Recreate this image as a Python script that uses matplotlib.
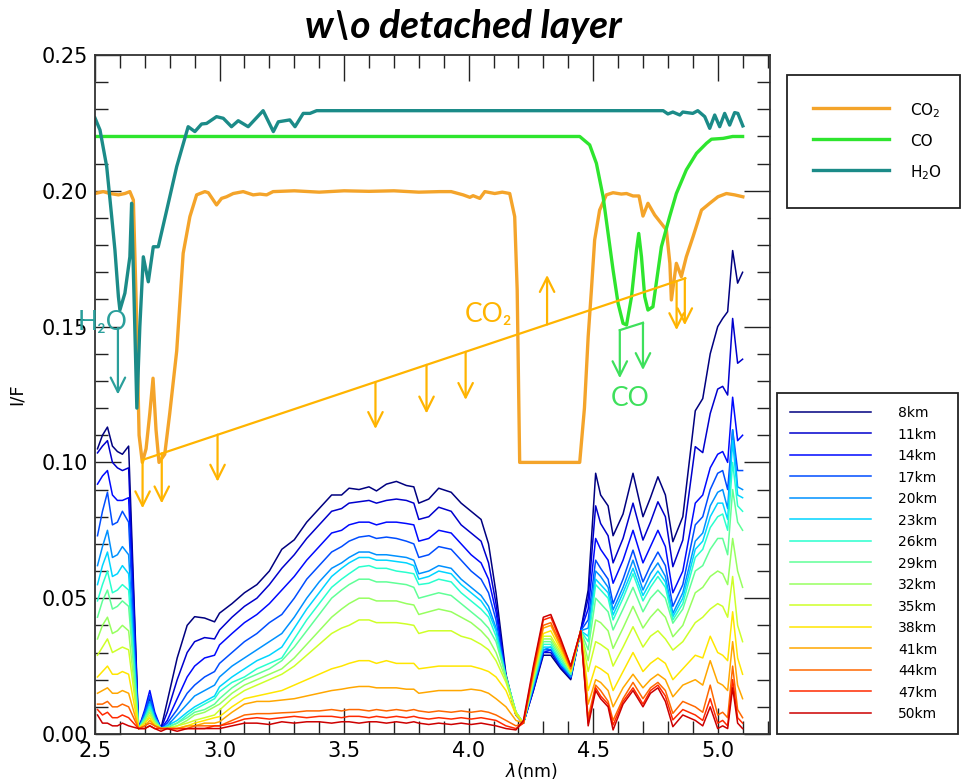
import matplotlib
matplotlib.use('Agg')
import matplotlib.pyplot as plt
from matplotlib.ticker import MultipleLocator, FormatStrFormatter

# ---------------- data ----------------
wl = [2.51, 2.53, 2.55, 2.57, 2.59, 2.61, 2.635,
      2.675, 2.70, 2.72, 2.74, 2.765, 2.79,
      2.83, 2.87, 2.90, 2.94, 2.98, 3.00, 3.05, 3.10, 3.15, 3.20,
      3.25, 3.30, 3.35, 3.40, 3.45, 3.49, 3.52, 3.56, 3.60, 3.63,
      3.67, 3.71, 3.75, 3.78, 3.80, 3.84, 3.88, 3.93, 3.97, 4.01,
      4.05, 4.08, 4.11, 4.15, 4.19, 4.22,
      4.26, 4.30, 4.33, 4.37, 4.41, 4.45,
      4.48, 4.51, 4.53, 4.56, 4.58, 4.62, 4.66, 4.70, 4.73, 4.76,
      4.79, 4.82, 4.86, 4.91, 4.94, 4.97, 5.00, 5.02, 5.04, 5.06,
      5.08, 5.10]

altitudes = ['8km', '11km', '14km', '17km', '20km', '23km', '26km', '29km',
             '32km', '35km', '38km', '41km', '44km', '47km', '50km']

r8 = [0.105, 0.110, 0.113, 0.106, 0.104, 0.103, 0.106,
      0.002, 0.007, 0.013, 0.007, 0.002, 0.012,
      0.028, 0.040, 0.0432, 0.0427, 0.0413, 0.0445, 0.048, 0.052, 0.055, 0.060,
      0.068, 0.0715, 0.078, 0.083, 0.088, 0.088, 0.0905, 0.090, 0.091, 0.0895,
      0.092, 0.093, 0.0915, 0.091, 0.085, 0.0865, 0.0905, 0.089, 0.085, 0.082,
      0.079, 0.070, 0.052, 0.022, 0.007, 0.004,
      0.016, 0.029, 0.029, 0.024, 0.020, 0.038,
      0.053, 0.096, 0.088, 0.084, 0.073, 0.081, 0.096, 0.080, 0.087, 0.0947,
      0.088, 0.0708, 0.080, 0.119, 0.1235, 0.140, 0.150, 0.153, 0.1555, 0.178,
      0.166, 0.170]
r11 = [0.1035, 0.106, 0.108, 0.100, 0.098, 0.097, 0.098,
       0.002, 0.008, 0.014, 0.007, 0.002, 0.008,
       0.020, 0.030, 0.034, 0.0355, 0.035, 0.0383, 0.043, 0.047, 0.050, 0.055,
       0.061, 0.066, 0.072, 0.077, 0.082, 0.083, 0.085, 0.0855, 0.086, 0.085,
       0.086, 0.0865, 0.086, 0.085, 0.079, 0.080, 0.0835, 0.082, 0.077, 0.074,
       0.071, 0.063, 0.048, 0.021, 0.007, 0.004,
       0.016, 0.030, 0.030, 0.0245, 0.0205, 0.038,
       0.050, 0.084, 0.0775, 0.073, 0.063, 0.072, 0.085, 0.0714, 0.078, 0.0855,
       0.080, 0.0616, 0.0714, 0.1058, 0.1036, 0.118, 0.127, 0.128, 0.1248, 0.153,
       0.1365, 0.138]
r14 = [0.092, 0.095, 0.097, 0.088, 0.086, 0.086, 0.087,
       0.002, 0.009, 0.016, 0.008, 0.002, 0.005,
       0.013, 0.021, 0.025, 0.028, 0.029, 0.0328, 0.037, 0.041, 0.044, 0.048,
       0.053, 0.058, 0.064, 0.069, 0.074, 0.075, 0.077, 0.078, 0.078, 0.077,
       0.078, 0.078, 0.0775, 0.077, 0.071, 0.072, 0.075, 0.074, 0.070, 0.066,
       0.063, 0.057, 0.045, 0.021, 0.007, 0.004,
       0.017, 0.030, 0.031, 0.025, 0.021, 0.038,
       0.046, 0.072, 0.068, 0.064, 0.0555, 0.064, 0.075, 0.063, 0.069, 0.075,
       0.069, 0.052, 0.060, 0.085, 0.088, 0.098, 0.103, 0.104, 0.100, 0.124,
       0.108, 0.110]
r17 = [0.073, 0.082, 0.089, 0.077, 0.078, 0.082, 0.078,
       0.002, 0.008, 0.014, 0.007, 0.002, 0.004,
       0.009, 0.015, 0.018, 0.021, 0.023, 0.026, 0.030, 0.034, 0.037, 0.041,
       0.044, 0.050, 0.057, 0.062, 0.067, 0.069, 0.071, 0.0725, 0.073, 0.072,
       0.0725, 0.072, 0.071, 0.070, 0.065, 0.066, 0.069, 0.068, 0.064, 0.060,
       0.057, 0.052, 0.042, 0.021, 0.007, 0.004,
       0.017, 0.031, 0.031, 0.025, 0.021, 0.038,
       0.042, 0.064, 0.061, 0.057, 0.048, 0.057, 0.0677, 0.056, 0.062, 0.067,
       0.062, 0.047, 0.055, 0.077, 0.080, 0.090, 0.096, 0.097, 0.090, 0.112,
       0.097, 0.097]
r20 = [0.062, 0.069, 0.075, 0.065, 0.066, 0.069, 0.066,
       0.002, 0.007, 0.012, 0.006, 0.002, 0.003,
       0.007, 0.011, 0.014, 0.016, 0.018, 0.021, 0.025, 0.028, 0.031, 0.034,
       0.037, 0.043, 0.050, 0.056, 0.061, 0.063, 0.065, 0.067, 0.067, 0.066,
       0.066, 0.0655, 0.065, 0.064, 0.059, 0.060, 0.062, 0.061, 0.057, 0.054,
       0.051, 0.047, 0.039, 0.021, 0.008, 0.004,
       0.018, 0.031, 0.032, 0.026, 0.021, 0.038,
       0.039, 0.060, 0.058, 0.054, 0.0457, 0.054, 0.064, 0.053, 0.059, 0.063,
       0.058, 0.0444, 0.052, 0.071, 0.074, 0.084, 0.089, 0.090, 0.083, 0.112,
       0.091, 0.090]
r23 = [0.055, 0.062, 0.067, 0.058, 0.059, 0.062, 0.059,
       0.002, 0.006, 0.011, 0.006, 0.002, 0.003,
       0.005, 0.008, 0.010, 0.012, 0.014, 0.0174, 0.021, 0.024, 0.027, 0.029,
       0.032, 0.039, 0.046, 0.052, 0.058, 0.061, 0.063, 0.065, 0.065, 0.064,
       0.064, 0.0635, 0.063, 0.062, 0.057, 0.058, 0.060, 0.059, 0.055, 0.052,
       0.049, 0.045, 0.038, 0.021, 0.008, 0.004,
       0.018, 0.032, 0.032, 0.026, 0.022, 0.038,
       0.036, 0.057, 0.055, 0.052, 0.0438, 0.052, 0.061, 0.051, 0.056, 0.060,
       0.056, 0.0432, 0.050, 0.068, 0.071, 0.080, 0.085, 0.085, 0.079, 0.108,
       0.088, 0.087]
r26 = [0.049, 0.055, 0.060, 0.052, 0.053, 0.055, 0.053,
       0.002, 0.006, 0.010, 0.005, 0.002, 0.0025,
       0.004, 0.007, 0.009, 0.011, 0.013, 0.0156, 0.019, 0.021, 0.024, 0.026,
       0.028, 0.035, 0.042, 0.048, 0.054, 0.057, 0.059, 0.0615, 0.062, 0.061,
       0.061, 0.060, 0.0595, 0.059, 0.055, 0.0555, 0.057, 0.056, 0.052, 0.049,
       0.046, 0.043, 0.036, 0.021, 0.008, 0.004,
       0.019, 0.033, 0.033, 0.027, 0.022, 0.038,
       0.034, 0.055, 0.053, 0.050, 0.042, 0.050, 0.059, 0.049, 0.054, 0.058,
       0.054, 0.042, 0.048, 0.065, 0.068, 0.076, 0.080, 0.081, 0.075, 0.100,
       0.084, 0.082]
r29 = [0.043, 0.049, 0.053, 0.046, 0.047, 0.049, 0.047,
       0.002, 0.005, 0.009, 0.005, 0.002, 0.0025,
       0.004, 0.006, 0.008, 0.009, 0.011, 0.013, 0.017, 0.020, 0.022, 0.024,
       0.027, 0.032, 0.038, 0.044, 0.050, 0.053, 0.055, 0.057, 0.057, 0.056,
       0.056, 0.0555, 0.055, 0.054, 0.050, 0.051, 0.052, 0.051, 0.048, 0.045,
       0.042, 0.039, 0.034, 0.021, 0.008, 0.004,
       0.019, 0.034, 0.034, 0.028, 0.022, 0.038,
       0.031, 0.050, 0.048, 0.045, 0.0383, 0.046, 0.054, 0.045, 0.050, 0.053,
       0.050, 0.0408, 0.046, 0.060, 0.062, 0.068, 0.072, 0.072, 0.066, 0.090,
       0.078, 0.075]
r32 = [0.035, 0.040, 0.043, 0.037, 0.038, 0.040, 0.038,
       0.002, 0.005, 0.008, 0.004, 0.002, 0.002,
       0.003, 0.005, 0.007, 0.008, 0.010, 0.011, 0.015, 0.018, 0.020, 0.022,
       0.024, 0.028, 0.033, 0.038, 0.043, 0.046, 0.048, 0.050, 0.050, 0.049,
       0.049, 0.049, 0.048, 0.0475, 0.044, 0.045, 0.046, 0.045, 0.043, 0.041,
       0.038, 0.035, 0.030, 0.020, 0.008, 0.004,
       0.020, 0.035, 0.035, 0.029, 0.023, 0.038,
       0.027, 0.042, 0.041, 0.038, 0.0315, 0.039, 0.047, 0.039, 0.043, 0.046,
       0.043, 0.0358, 0.040, 0.052, 0.054, 0.058, 0.060, 0.059, 0.055, 0.072,
       0.060, 0.054]
r35 = [0.029, 0.032, 0.035, 0.030, 0.031, 0.032, 0.031,
       0.002, 0.004, 0.007, 0.004, 0.002, 0.002,
       0.003, 0.004, 0.005, 0.006, 0.007, 0.0088, 0.013, 0.016, 0.018, 0.020,
       0.022, 0.025, 0.029, 0.033, 0.037, 0.039, 0.040, 0.042, 0.042, 0.041,
       0.041, 0.041, 0.0405, 0.040, 0.037, 0.038, 0.038, 0.038, 0.036, 0.035,
       0.033, 0.031, 0.027, 0.019, 0.008, 0.004,
       0.021, 0.036, 0.036, 0.030, 0.023, 0.038,
       0.023, 0.034, 0.033, 0.031, 0.025, 0.032, 0.0395, 0.032, 0.036, 0.038,
       0.035, 0.0309, 0.034, 0.041, 0.043, 0.046, 0.048, 0.047, 0.043, 0.058,
       0.040, 0.034]
r38 = [0.021, 0.023, 0.025, 0.022, 0.022, 0.023, 0.022,
       0.002, 0.004, 0.006, 0.003, 0.002, 0.002,
       0.002, 0.003, 0.004, 0.005, 0.006, 0.0064, 0.010, 0.013, 0.014, 0.015,
       0.016, 0.018, 0.020, 0.022, 0.024, 0.025, 0.026, 0.027, 0.027, 0.026,
       0.027, 0.026, 0.026, 0.026, 0.024, 0.0245, 0.025, 0.025, 0.025, 0.025,
       0.024, 0.023, 0.021, 0.016, 0.007, 0.004,
       0.022, 0.037, 0.038, 0.031, 0.023, 0.038,
       0.016, 0.025, 0.024, 0.022, 0.016, 0.023, 0.030, 0.023, 0.026, 0.028,
       0.026, 0.020, 0.024, 0.029, 0.028, 0.036, 0.030, 0.029, 0.027, 0.045,
       0.028, 0.022]
r41 = [0.015, 0.016, 0.017, 0.015, 0.015, 0.016, 0.015,
       0.002, 0.003, 0.005, 0.003, 0.002, 0.002,
       0.002, 0.003, 0.003, 0.004, 0.004, 0.0045, 0.008, 0.011, 0.012, 0.012,
       0.0125, 0.013, 0.014, 0.015, 0.016, 0.0165, 0.017, 0.0175, 0.0175, 0.017,
       0.017, 0.017, 0.0165, 0.0165, 0.015, 0.0155, 0.016, 0.016, 0.016, 0.0165,
       0.016, 0.015, 0.013, 0.010, 0.005, 0.004,
       0.022, 0.039, 0.040, 0.032, 0.024, 0.038,
       0.011, 0.020, 0.019, 0.016, 0.010, 0.017, 0.022, 0.017, 0.020, 0.022,
       0.020, 0.0137, 0.018, 0.020, 0.018, 0.027, 0.019, 0.018, 0.016, 0.034,
       0.018, 0.013]
r44 = [0.011, 0.011, 0.012, 0.010, 0.010, 0.011, 0.010,
       0.002, 0.003, 0.004, 0.003, 0.002, 0.002,
       0.002, 0.002, 0.003, 0.003, 0.003, 0.003, 0.005, 0.007, 0.0075, 0.0075,
       0.0078, 0.008, 0.0085, 0.0085, 0.009, 0.0085, 0.009, 0.009, 0.0085, 0.009,
       0.0085, 0.009, 0.0085, 0.009, 0.0085, 0.008, 0.0085, 0.008, 0.0085, 0.008,
       0.0085, 0.008, 0.007, 0.005, 0.003, 0.004,
       0.023, 0.040, 0.041, 0.033, 0.024, 0.038,
       0.006, 0.018, 0.016, 0.012, 0.005, 0.013, 0.019, 0.013, 0.017, 0.019,
       0.016, 0.0076, 0.012, 0.010, 0.008, 0.018, 0.007, 0.008, 0.006, 0.025,
       0.009, 0.006]
r47 = [0.009, 0.007, 0.008, 0.006, 0.006, 0.007, 0.006,
       0.002, 0.002, 0.003, 0.002, 0.002, 0.002,
       0.002, 0.002, 0.002, 0.002, 0.003, 0.003, 0.004, 0.0055, 0.006, 0.0055,
       0.006, 0.0065, 0.006, 0.0065, 0.0065, 0.006, 0.0065, 0.0065, 0.006, 0.0065,
       0.006, 0.0065, 0.006, 0.0065, 0.006, 0.0055, 0.006, 0.0055, 0.006, 0.0055,
       0.006, 0.0055, 0.005, 0.003, 0.002, 0.004,
       0.024, 0.042, 0.043, 0.034, 0.025, 0.038,
       0.004, 0.017, 0.014, 0.011, 0.0033, 0.012, 0.017, 0.011, 0.016, 0.018,
       0.014, 0.0052, 0.009, 0.007, 0.005, 0.013, 0.004, 0.005, 0.003, 0.020,
       0.006, 0.004]
r50 = [0.007, 0.004, 0.004, 0.003, 0.003, 0.004, 0.003,
       0.002, 0.002, 0.003, 0.002, 0.001, 0.002,
       0.001, 0.002, 0.002, 0.002, 0.002, 0.002, 0.003, 0.004, 0.004, 0.0035,
       0.0045, 0.004, 0.0045, 0.0045, 0.004, 0.0045, 0.0045, 0.004, 0.0045, 0.0045,
       0.004, 0.0045, 0.004, 0.0045, 0.004, 0.0035, 0.004, 0.0035, 0.004, 0.0035,
       0.004, 0.0035, 0.003, 0.002, 0.0015, 0.005,
       0.025, 0.043, 0.044, 0.035, 0.025, 0.038,
       0.003, 0.016, 0.013, 0.010, 0.0015, 0.011, 0.016, 0.010, 0.015, 0.017,
       0.012, 0.0027, 0.007, 0.005, 0.003, 0.010, 0.002, 0.003, 0.002, 0.017,
       0.004, 0.002]

co2_wl = [2.50, 2.533, 2.56, 2.594, 2.62, 2.64, 2.654, 2.665, 2.677, 2.69, 2.705,
          2.72, 2.733, 2.745, 2.757, 2.78, 2.80, 2.828, 2.854, 2.881, 2.908, 2.941,
          2.955, 2.988, 3.008, 3.028, 3.055, 3.095, 3.135, 3.162, 3.189, 3.215, 3.30,
          3.40, 3.50, 3.60, 3.70, 3.80, 3.884, 3.93, 3.978, 4.005, 4.018, 4.045,
          4.065, 4.105, 4.135, 4.165, 4.185, 4.195, 4.205, 4.30, 4.40, 4.446, 4.465,
          4.48, 4.493, 4.506, 4.526, 4.553, 4.58, 4.613, 4.634, 4.66, 4.684, 4.70,
          4.72, 4.747, 4.794, 4.808, 4.814, 4.834, 4.854, 4.874, 4.901, 4.935, 4.968,
          5.001, 5.035, 5.068, 5.101]
co2_if = [0.199, 0.1997, 0.199, 0.1985, 0.199, 0.1997, 0.1966, 0.16, 0.11, 0.100, 0.105,
          0.118, 0.131, 0.112, 0.100, 0.103, 0.118, 0.141, 0.177, 0.1905, 0.1985, 0.1997,
          0.1993, 0.1948, 0.1972, 0.1978, 0.199, 0.1997, 0.1985, 0.1988, 0.1985, 0.1997, 0.200,
          0.1995, 0.200, 0.1998, 0.200, 0.1995, 0.1997, 0.1997, 0.1985, 0.1976, 0.1982, 0.1972,
          0.1997, 0.199, 0.1995, 0.199, 0.1905, 0.1635, 0.100, 0.100, 0.100, 0.100, 0.120,
          0.1463, 0.1635, 0.1819, 0.1929, 0.1985, 0.1993, 0.1988, 0.199, 0.1981, 0.1981, 0.1907,
          0.1954, 0.1911, 0.1856, 0.1733, 0.1598, 0.1733, 0.1684, 0.1757, 0.1831, 0.1929, 0.1954,
          0.1978, 0.199, 0.1985, 0.1978]

co_wl = [2.50, 4.446, 4.486, 4.513, 4.54, 4.56, 4.58, 4.60, 4.62, 4.634, 4.654, 4.674,
         4.683, 4.694, 4.707, 4.72, 4.74, 4.774, 4.807, 4.834, 4.874, 4.915, 4.955,
         4.975, 5.022, 5.06, 5.10]
co_if = [0.22, 0.22, 0.2169, 0.2101, 0.1978, 0.1843, 0.1708, 0.1586, 0.1512, 0.1506, 0.161,
         0.1782, 0.1843, 0.1757, 0.161, 0.1561, 0.1573, 0.1794, 0.1905, 0.199, 0.2077, 0.2138,
         0.2175, 0.219, 0.2193, 0.22, 0.22]

h2o_wl = [2.50, 2.52, 2.547, 2.567, 2.58, 2.594, 2.60, 2.62, 2.64, 2.647, 2.657, 2.668,
          2.68, 2.694, 2.714, 2.734, 2.754, 2.788, 2.828, 2.874, 2.901, 2.928, 2.948,
          2.988, 3.015, 3.048, 3.075, 3.115, 3.175, 3.216, 3.236, 3.282, 3.303, 3.336,
          3.363, 3.39, 3.483, 3.8, 4.2, 4.6, 4.781, 4.80, 4.82, 4.848, 4.86, 4.90, 4.92,
          4.948, 4.968, 4.988, 5.008, 5.028, 5.048, 5.068, 5.081, 5.101]
h2o_if = [0.2268, 0.2224, 0.2089, 0.1905, 0.1782, 0.161, 0.1561, 0.1623, 0.1757, 0.1954,
          0.16, 0.12, 0.15, 0.1757, 0.1665, 0.1794, 0.1794, 0.1929, 0.2089, 0.2236, 0.2218,
          0.2246, 0.2248, 0.2273, 0.2267, 0.2236, 0.2258, 0.2236, 0.2295, 0.2218, 0.2254,
          0.2261, 0.2236, 0.2285, 0.2285, 0.2295, 0.2295, 0.2295, 0.2295, 0.2295, 0.2295,
          0.2283, 0.229, 0.2279, 0.229, 0.2285, 0.2295, 0.2273, 0.223, 0.2279, 0.2236,
          0.2285, 0.2242, 0.2288, 0.2285, 0.2239]

# annotation guide (slanted CO2 line and arrows)
co2_guide_wl = [2.69, 4.87]
co2_guide_if = [0.1009, 0.1678]
co2_arrow_wl = [2.691, 2.768, 2.992, 3.626, 3.831, 3.988, 4.315, 4.835, 4.868]
co2_arrow_from = [0.1009, 0.1033, 0.1102, 0.1296, 0.1359, 0.1407, 0.1508, 0.1667, 0.1678]
co2_arrow_to = [0.0831, 0.0849, 0.0929, 0.1123, 0.1180, 0.1230, 0.1690, 0.1487, 0.1505]
co_guide_wl = [4.607, 4.70]
co_guide_if = [0.1487, 0.1514]
co_arrow_to = [0.131, 0.134]
h2o_arrow_wl = 2.592
h2o_arrow_from = 0.1495
h2o_arrow_to = 0.125

spectra = [r8, r11, r14, r17, r20, r23, r26, r29, r32, r35, r38, r41, r44, r47, r50]

# ---------------- figure ----------------
fig = plt.figure(figsize=(9.62, 7.84), dpi=100)
ax = fig.add_axes([95 / 962, 50 / 784, 675 / 962, 679 / 784])

cmap = plt.get_cmap('jet')
spec_handles = []
for i, (lab, r) in enumerate(zip(altitudes, spectra)):
    h, = ax.plot(wl, r, color=cmap(i / 15), lw=1.1, label=lab)
    spec_handles.append(h)

c_co2 = '#f4a42a'
c_co = '#2ee52e'
c_h2o = '#1b8b88'
h_co2, = ax.plot(co2_wl, co2_if, color=c_co2, lw=2.4, label='CO$_2$')
h_co, = ax.plot(co_wl, co_if, color=c_co, lw=2.4, label='CO')
h_h2o, = ax.plot(h2o_wl, h2o_if, color=c_h2o, lw=2.4, label='H$_2$O')

# annotations
a_or = '#ffb400'
a_gr = '#3ee05c'
a_te = '#2a9f9b'
ax.plot(co2_guide_wl, co2_guide_if, color=a_or, lw=1.6)
for x, y0, y1 in zip(co2_arrow_wl, co2_arrow_from, co2_arrow_to):
    ax.annotate('', xy=(x, y1), xytext=(x, y0),
                arrowprops=dict(arrowstyle='->', color=a_or, lw=1.6,
                                mutation_scale=26, shrinkA=0, shrinkB=0))
ax.plot(co_guide_wl, co_guide_if, color=a_gr, lw=1.6)
for x, y0, y1 in zip(co_guide_wl, co_guide_if, co_arrow_to):
    ax.annotate('', xy=(x, y1), xytext=(x, y0),
                arrowprops=dict(arrowstyle='->', color=a_gr, lw=1.6,
                                mutation_scale=26, shrinkA=0, shrinkB=0))
ax.annotate('', xy=(h2o_arrow_wl, h2o_arrow_to), xytext=(h2o_arrow_wl, h2o_arrow_from),
            arrowprops=dict(arrowstyle='->', color=a_te, lw=1.6,
                            mutation_scale=26, shrinkA=0, shrinkB=0))

lab_font = ['Lato', 'DejaVu Sans']
ax.text(3.985, 0.1517, 'CO\u2082', color=a_or, fontsize=19, family=lab_font,
        ha='left', va='baseline')
ax.text(4.649, 0.1237, 'CO', color=a_gr, fontsize=19, family=lab_font,
        ha='center', va='center')
ax.text(2.430, 0.1487, 'H\u2082O', color=a_te, fontsize=19, family=lab_font,
        ha='left', va='baseline', clip_on=False)

# axes styling
ax.set_xlim(2.5, 5.21)
ax.set_ylim(0.0, 0.25)
ax.xaxis.set_major_locator(MultipleLocator(0.5))
ax.xaxis.set_minor_locator(MultipleLocator(0.1))
ax.yaxis.set_major_locator(MultipleLocator(0.05))
ax.yaxis.set_minor_locator(MultipleLocator(0.01))
ax.xaxis.set_major_formatter(FormatStrFormatter('%.1f'))
ax.yaxis.set_major_formatter(FormatStrFormatter('%.2f'))
ax.tick_params(which='both', direction='in', top=True, right=True, color='#222222')
ax.tick_params(which='major', length=19, width=1.0, labelsize=15, pad=5)
ax.tick_params(which='minor', length=9.5, width=1.0)
for s in ax.spines.values():
    s.set_linewidth(1.3)
    s.set_color('#333333')

ax.set_ylabel('I/F', fontsize=13)
ax.yaxis.set_label_coords(-0.102, 0.5)
ax.set_xlabel(r'$\lambda$(nm)', fontsize=12.5)
ax.xaxis.set_label_coords(0.646, -0.04)

fig.text(463 / 962, 1 - 27 / 784, 'w\\o detached layer', ha='center', va='center',
         fontsize=28, fontweight='bold', fontstyle='italic', family=['Lato', 'DejaVu Sans'])

leg1 = fig.legend(handles=[h_co2, h_co, h_h2o], loc='upper left',
                  bbox_to_anchor=(787 / 962, 1 - 210 / 784, 173 / 962, 135 / 784),
                  bbox_transform=fig.transFigure, mode='expand', borderaxespad=0,
                  fontsize=11, handlelength=5.0, handletextpad=1.4, labelspacing=0.74,
                  handleheight=1.6, borderpad=1.68, fancybox=False, framealpha=1)
leg1.get_frame().set_edgecolor('#222222')
leg1.get_frame().set_linewidth(1.3)

leg2 = fig.legend(handles=spec_handles, loc='upper left',
                  bbox_to_anchor=(777 / 962, 1 - 733 / 784, 181 / 962, 340 / 784),
                  bbox_transform=fig.transFigure, mode='expand', borderaxespad=0,
                  fontsize=10, handlelength=5.8, handletextpad=1.95, labelspacing=0.54,
                  handleheight=1.0, borderpad=0.95, fancybox=False, framealpha=1)
leg2.get_frame().set_edgecolor('#222222')
leg2.get_frame().set_linewidth(1.3)

fig.savefig('out.png', dpi=100)
